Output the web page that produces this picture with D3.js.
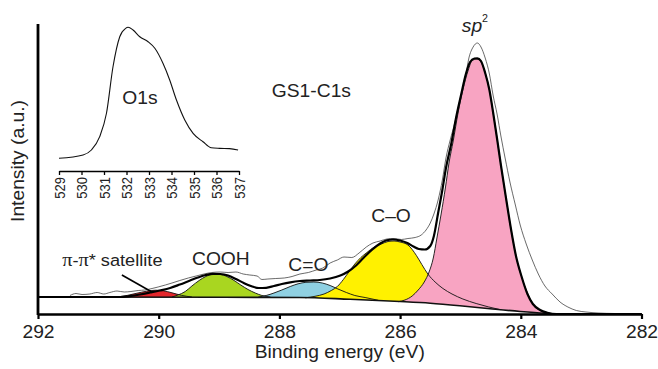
<!DOCTYPE html>
<html>
<head>
<meta charset="utf-8">
<script src="https://cdn.jsdelivr.net/npm/d3@7"></script>
<style>
  body { margin: 0; background: #fff; }
  text { font-family: "Liberation Sans", Arial, Helvetica, sans-serif; fill: #222; }
</style>
</head>
<body>
<div id="chart"></div>
<script>
// ---- data ----
// main C1s spectrum (binding energy in eV, intensity in a.u.)
const rawE = [291.47, 291.37, 291.27, 291.14, 291.02, 290.91, 290.81, 290.69, 290.57, 290.46, 290.34, 290.23, 290.11, 290.01, 289.89, 289.78, 289.65, 289.51, 289.38, 289.25, 289.12, 288.98, 288.85, 288.72, 288.60, 288.49, 288.37, 288.29, 288.19, 288.06, 287.92, 287.79, 287.66, 287.52, 287.39, 287.28, 287.16, 287.04, 286.93, 286.80, 286.68, 286.56, 286.45, 286.33, 286.22, 286.10, 285.98, 285.87, 285.75, 285.65, 285.57, 285.50, 285.44, 285.37, 285.30, 285.24, 285.17, 285.09, 285.01, 284.92, 284.86, 284.79, 284.72, 284.66, 284.59, 284.52, 284.46, 284.39, 284.33, 284.26, 284.18, 284.09, 284.01, 283.91, 283.81, 283.71, 283.60, 283.48, 283.35, 283.22, 283.08, 282.92, 282.72, 282.44];
const rawI = [18.5, 20.5, 19.5, 20, 21.5, 20, 21.5, 23, 22, 22.5, 23.5, 24, 25.5, 27, 29, 31, 33.5, 36, 38, 40, 41.5, 42, 41.5, 42, 40, 39, 38, 34.5, 35, 35.5, 36, 37.5, 40, 41.5, 44, 46, 51, 54, 57, 56.5, 61, 67, 71, 73, 75, 75.5, 74.5, 75.5, 76.5, 79, 84, 91, 100, 114, 134, 156, 174, 192, 214, 236, 256, 267, 271, 267, 256, 240, 219, 199, 178, 156, 132, 109, 89, 70, 54, 40, 28, 20, 12, 7, 3.5, 2, 1, 0.5];

// fitted envelope
const fitE = [292, 290.64, 290.48, 290.31, 290.14, 289.98, 289.81, 289.65, 289.48, 289.35, 289.22, 289.10, 288.98, 288.85, 288.72, 288.59, 288.45, 288.34, 288.22, 288.09, 287.96, 287.82, 287.66, 287.49, 287.33, 287.16, 286.99, 286.86, 286.73, 286.60, 286.46, 286.33, 286.22, 286.12, 286.00, 285.88, 285.78, 285.69, 285.59, 285.50, 285.44, 285.37, 285.30, 285.24, 285.15, 285.07, 284.99, 284.91, 284.84, 284.77, 284.72, 284.66, 284.59, 284.52, 284.46, 284.39, 284.33, 284.24, 284.16, 284.08, 283.99, 283.89, 283.80, 283.68, 283.56, 283.41, 282];
const fitI = [17, 17, 17.9, 19.5, 21.5, 23.5, 26, 29.5, 33.5, 36.5, 39, 40.2, 40, 38.5, 35, 31, 27.5, 26, 26.2, 28, 30, 31.7, 33, 33.5, 34, 35.5, 38.5, 42.5, 48.5, 56.5, 64.5, 70.5, 73.7, 74.5, 73.5, 71, 67.5, 65, 64.5, 68, 78, 101, 124, 146, 171, 197, 219, 240, 252, 255.5, 255.7, 253, 241, 224, 202, 174, 149, 114, 84, 58, 38, 20, 10, 4, 1.3, 0, 0];

// Shirley background
const bgE = [292, 287.66, 286.83, 286.00, 285.50, 285.01, 284.51, 284.01, 283.60, 283.35, 282];
const bgI = [17, 16.5, 14.7, 12.5, 10.8, 8.3, 5.3, 2.5, 0.7, 0, 0];

// fitted components
const satE = [290.68, 290.52, 290.36, 290.20, 290.05, 289.92, 289.78, 289.62, 289.45];
const satI = [17, 18.6, 20.8, 22.8, 23.8, 23.2, 21.2, 18.6, 17];

const coohE = [289.78, 289.68, 289.56, 289.45, 289.33, 289.22, 289.10, 288.98, 288.87, 288.75, 288.64, 288.52, 288.40, 288.29, 288.15];
const coohI = [17, 19, 22.5, 28, 33.5, 37.5, 39.7, 39.5, 37.5, 33.5, 29, 24.5, 21, 18.5, 17];

const c2oE = [288.35, 288.22, 288.09, 287.96, 287.82, 287.69, 287.56, 287.43, 287.29, 287.16, 287.03, 286.89, 286.75, 286.58, 286.36];
const c2oI = [17, 18.5, 21, 24, 27.5, 30.2, 31.7, 32, 31, 28.5, 25, 21.5, 18.5, 16.5, 13.7];

const c1oE = [287.57, 287.41, 287.26, 287.14, 287.04, 286.94, 286.85, 286.75, 286.65, 286.55, 286.43, 286.31, 286.20, 286.10, 286.00, 285.87, 285.73, 285.64, 285.54, 285.42, 285.29, 285.14, 284.96, 284.74, 284.34];
const c1oI = [16.2, 17.7, 20, 23.5, 27.5, 34.5, 42, 50, 56.5, 61.5, 67, 70, 72.5, 73, 72, 69, 58.5, 49.5, 40, 32, 25.5, 20, 15, 10.5, 4.3];

const sp2E = [286.03, 285.92, 285.80, 285.70, 285.60, 285.52, 285.45, 285.39, 285.32, 285.25, 285.19, 285.12, 285.04, 284.96, 284.87, 284.81, 284.73, 284.66, 284.59, 284.52, 284.46, 284.39, 284.33, 284.24, 284.16, 284.08, 283.99, 283.89, 283.80, 283.68, 283.56, 283.41];
const sp2I = [12.3, 14, 18, 24, 32, 42, 56, 76, 100, 126, 151, 173, 201, 224, 244, 253, 255, 252, 241, 224, 202, 174, 149, 114, 84, 58, 38, 21, 10, 3.5, 1, 0];

// inset O1s spectrum
const o1sE = [529.0, 530.07, 530.44, 530.81, 531.11, 531.4, 531.7, 531.96, 532.07, 532.29, 532.59, 532.96, 533.26, 533.62, 533.92, 534.22, 534.59, 534.96, 535.4, 535.77, 536.14, 536.58, 536.96];
const o1sI = [8.5, 10.7, 14, 22.9, 38.5, 69.5, 89.5, 95.1, 95.8, 94, 89.5, 86.2, 81.8, 71.8, 60.7, 47.3, 34, 25.1, 19.5, 15.5, 15.1, 14.9, 14];

const xTicks = [292, 290, 288, 286, 284, 282];
const insetTicks = [529, 530, 531, 532, 533, 534, 535, 536, 537];

const components = [
    { name: "π-π* satellite", e: satE, i: satI, color: "#e3262b" },
    { name: "COOH", e: coohE, i: coohI, color: "#a9d620" },
    { name: "C=O", e: c2oE, i: c2oI, color: "#8fd0e2" },
    { name: "C–O", e: c1oE, i: c1oI, color: "#fff100" },
    { name: "sp2", e: sp2E, i: sp2I, color: "#f8a4c2" }
];

// ---- chart ----
const width = 658, height = 369;
const fs = "18px";
const stretch = "scale(1.07,1)"; // the lettering in the picture is a bit wide

const svg = d3.select("#chart").append("svg")
    .attr("width", width)
    .attr("height", height);

const x = d3.scaleLinear().domain([292, 282]).range([38, 641.5]);
const y = d3.scaleLinear().domain([0, 290]).range([314, 24]);

const zip = (e, v) => e.map((d, k) => [d, v[k]]);
const smooth = d3.line().x(d => x(d[0])).y(d => y(d[1])).curve(d3.curveMonotoneX);

const bg = zip(bgE, bgI);
const bgAt = e => {
    // linear reading of the background between its points
    for (let k = 0; k < bg.length - 1; k++) {
        const a = bg[k], b = bg[k + 1];
        if (e <= a[0] && e >= b[0]) return a[1] + (b[1] - a[1]) * (a[0] - e) / (a[0] - b[0]);
    }
    return 0;
};

// component fills, high BE first so that each one overlaps the previous
components.forEach(c => {
    const pts = zip(c.e, c.i);
    const hi = pts[0][0], lo = pts[pts.length - 1][0];
    const back = [[lo, bgAt(lo)]]
        .concat(bg.filter(p => p[0] < hi && p[0] > lo).reverse())
        .concat([[hi, bgAt(hi)]]);
    const d = smooth(pts) + back.map(p => "L" + x(p[0]) + "," + y(p[1])).join("") + "Z";
    svg.append("path")
        .attr("d", d)
        .attr("fill", c.color)
        .attr("stroke", "none");
});

// component outlines
components.forEach(c => {
    svg.append("path")
        .attr("d", smooth(zip(c.e, c.i)))
        .attr("fill", "none")
        .attr("stroke", "#111")
        .attr("stroke-width", 0.9);
});

// background
svg.append("path")
    .attr("d", smooth(bg))
    .attr("fill", "none")
    .attr("stroke", "#111")
    .attr("stroke-width", 1.6);

// measured spectrum (thin)
svg.append("path")
    .attr("d", smooth(zip(rawE, rawI)))
    .attr("fill", "none")
    .attr("stroke", "#444")
    .attr("stroke-width", 0.8);

// envelope (thick)
svg.append("path")
    .attr("d", smooth(zip(fitE, fitI)))
    .attr("fill", "none")
    .attr("stroke", "#000")
    .attr("stroke-width", 2.2);

// axes
const xAxis = svg.append("g")
    .attr("transform", `translate(0,${y(0)})`)
    .call(d3.axisBottom(x).tickValues(xTicks).tickFormat(d3.format("d")).tickSize(5).tickSizeOuter(0).tickPadding(6));
xAxis.select(".domain").attr("stroke", "#000").attr("stroke-width", 2.6);
xAxis.selectAll(".tick line").attr("stroke", "#000").attr("stroke-width", 2.2);
xAxis.selectAll(".tick text")
    .attr("fill", "#222")
    .style("font-size", fs)
    .style("font-family", "Liberation Sans, Arial, sans-serif")
    .attr("transform", stretch);

svg.append("line")
    .attr("x1", x(292)).attr("x2", x(292))
    .attr("y1", y(290)).attr("y2", y(0) + 1)
    .attr("stroke", "#000")
    .attr("stroke-width", 2.8);

svg.append("text")
    .attr("transform", `translate(${(x(292) + x(282)) / 2},358) ${stretch}`)
    .attr("text-anchor", "middle")
    .style("font-size", fs)
    .text("Binding energy (eV)");

svg.append("text")
    .attr("transform", `translate(24,${y(153)}) rotate(-90) ${stretch}`)
    .attr("text-anchor", "middle")
    .style("font-size", fs)
    .text("Intensity (a.u.)");

// peak labels
const label = (t, e, v, anchor) => svg.append("text")
    .attr("transform", `translate(${x(e)},${y(v)}) ${stretch}`)
    .attr("text-anchor", anchor || "middle")
    .style("font-size", fs)
    .text(t);

label("GS1-C1s", 287.47, 217);
label("COOH", 288.97, 49);
label("C=O", 287.52, 43);
label("C–O", 286.15, 92);

const sat = svg.append("text")
    .attr("transform", `translate(${x(291.6)},${y(48)}) ${stretch}`)
    .style("font-size", "17px");
sat.append("tspan").style("font-family", "Liberation Serif, serif").style("font-size", "19px").text("π");
sat.append("tspan").text("-");
sat.append("tspan").style("font-family", "Liberation Serif, serif").style("font-size", "19px").text("π");
sat.append("tspan").text("* satellite");

svg.append("line")
    .attr("x1", x(290.61)).attr("y1", y(39))
    .attr("x2", x(290.12)).attr("y2", y(22.3))
    .attr("stroke", "#000")
    .attr("stroke-width", 1.6);

const sp = svg.append("text")
    .attr("transform", `translate(${x(284.76)},${y(282)}) ${stretch}`)
    .attr("text-anchor", "middle")
    .style("font-size", fs)
    .style("font-style", "italic");
sp.append("tspan").text("sp");
sp.append("tspan").attr("dy", "-10").style("font-size", "10px").style("font-style", "normal").text("2");

// ---- inset O1s ----
const xi = d3.scaleLinear().domain([529, 537]).range([59, 239]);
const yi = d3.scaleLinear().domain([0, 100]).range([171, 21]);

svg.append("path")
    .attr("d", d3.line().x(d => xi(d[0])).y(d => yi(d[1])).curve(d3.curveMonotoneX)(zip(o1sE, o1sI)))
    .attr("fill", "none")
    .attr("stroke", "#111")
    .attr("stroke-width", 1.1);

const inAxis = svg.append("g")
    .attr("transform", `translate(0,${yi(0)})`)
    .call(d3.axisBottom(xi).tickValues(insetTicks).tickFormat(d3.format("d")).tickSize(4).tickSizeOuter(0));
inAxis.select(".domain").attr("stroke", "#000").attr("stroke-width", 1.3);
inAxis.selectAll(".tick line").attr("stroke", "#000").attr("stroke-width", 1.3);
inAxis.selectAll(".tick text")
    .attr("fill", "#222")
    .style("font-size", "13px")
    .style("font-family", "Liberation Sans, Arial, sans-serif")
    .attr("transform", "rotate(-90) scale(1,1.1)")
    .attr("x", -6)
    .attr("y", 0)
    .attr("dy", "0.35em")
    .style("text-anchor", "end");

svg.append("text")
    .attr("transform", `translate(${xi(532.6)},${yi(45)}) ${stretch}`)
    .attr("text-anchor", "middle")
    .style("font-size", fs)
    .text("O1s");
</script>
</body>
</html>
